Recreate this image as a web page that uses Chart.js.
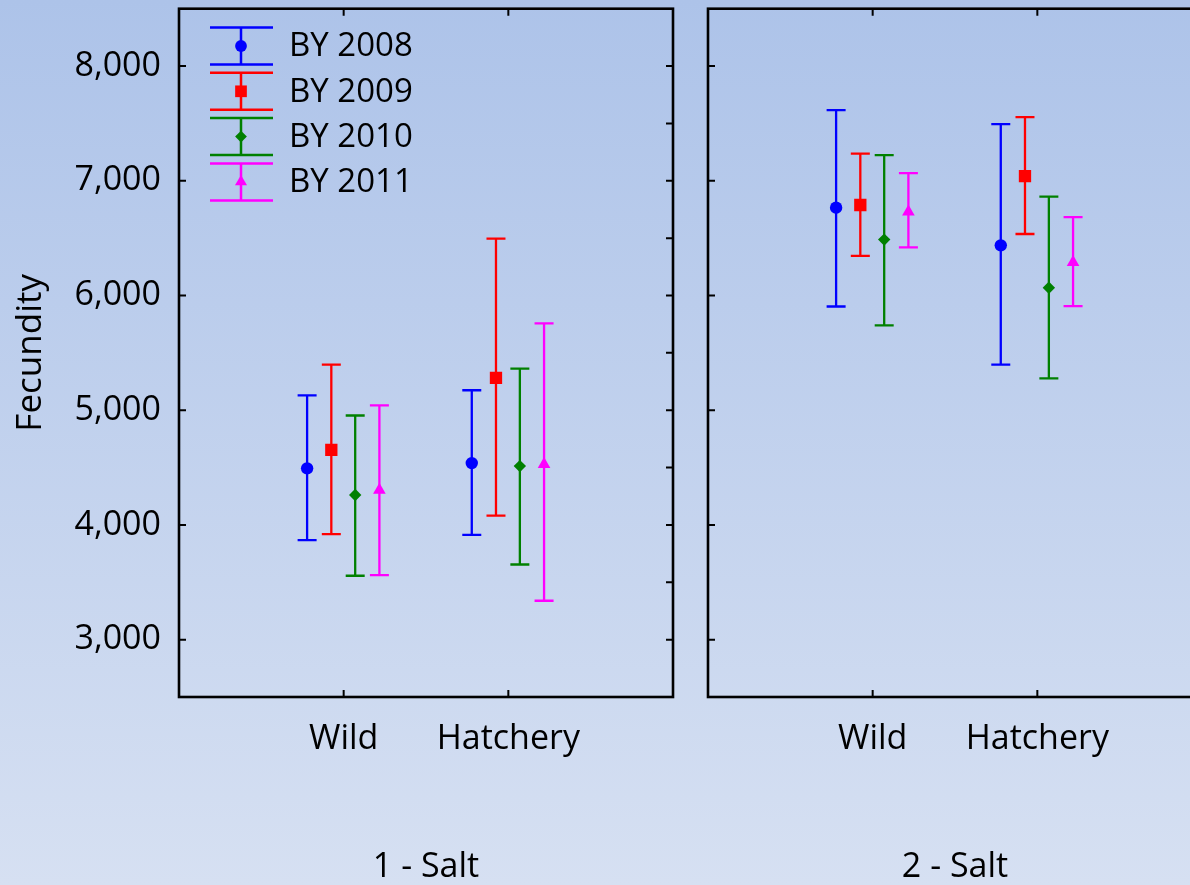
<!DOCTYPE html>
<html>
<head>
<meta charset="utf-8">
<script src="https://cdn.jsdelivr.net/npm/chart.js@4.4.0/dist/chart.umd.min.js"></script>
<style>
html, body { margin: 0; padding: 0; width: 1190px; height: 885px; overflow: hidden; }
body { position: relative; background: linear-gradient(to bottom, #adc3e9 0%, #d6e0f2 100%); }
#left { position: absolute; left: 0; top: 0; width: 690px; height: 885px; }
#right { position: absolute; left: 690px; top: 0; width: 530px; height: 885px; }
</style>
</head>
<body>
<div id="left"><canvas id="chart1"></canvas></div>
<div id="right"><canvas id="chart2"></canvas></div>
<script>
var groups = ['Wild', 'Hatchery'];
var seriesNames = ['BY 2008', 'BY 2009', 'BY 2010', 'BY 2011'];
var yTicks = [3000, 4000, 5000, 6000, 7000, 8000];

// rows: BY 2008..2011, columns: Wild, Hatchery
var salt1Mean = [[4493, 4539], [4655, 5281], [4261, 4513], [4304, 4528]];
var salt1Low  = [[3867, 3913], [3919, 4081], [3557, 3655], [3563, 3339]];
var salt1High = [[5130, 5174], [5397, 6496], [4954, 5363], [5043, 5757]];

var salt2Mean = [[6765, 6437], [6789, 7041], [6487, 6067], [6730, 6289]];
var salt2Low  = [[5904, 5397], [6345, 6536], [5739, 5278], [6420, 5907]];
var salt2High = [[7615, 7493], [7237, 7554], [7223, 6861], [7067, 6684]];

var colors = ['#0000ff', '#ff0000', '#008000', '#ff00ff'];
var markers = ['circle', 'rect', 'rectRot', 'triangle'];
var markerSize = [6.2, 8.7, 6.2, 7.3];
var offsets = [-0.222, -0.075, 0.07, 0.217];
var fontFamily = "'Open Sans', sans-serif";

function drawMarker(ctx, style, x, y, r) {
    ctx.beginPath();
    if (style == 'circle') {
        ctx.arc(x, y, r, 0, Math.PI * 2);
    } else if (style == 'rect') {
        var s = Math.SQRT1_2 * r;
        ctx.rect(x - s, y - s, 2 * s, 2 * s);
    } else if (style == 'rectRot') {
        ctx.moveTo(x - r, y);
        ctx.lineTo(x, y - r);
        ctx.lineTo(x + r, y);
        ctx.lineTo(x, y + r);
        ctx.closePath();
    } else {
        ctx.moveTo(x, y - r);
        ctx.lineTo(x + r * 0.866, y + r / 2);
        ctx.lineTo(x - r * 0.866, y + r / 2);
        ctx.closePath();
    }
    ctx.fill();
}

// whiskers for every point, drawn under the markers
var errorBars = {
    id: 'errorBars',
    beforeDatasetsDraw: function(chart) {
        var ctx = chart.ctx;
        var xs = chart.scales.x, ys = chart.scales.y;
        ctx.save();
        ctx.lineWidth = 2.3;
        chart.data.datasets.forEach(function(ds) {
            ctx.strokeStyle = ds.borderColor;
            ds.data.forEach(function(p) {
                var x = xs.getPixelForValue(p.x);
                var top = ys.getPixelForValue(p.yMax);
                var bot = ys.getPixelForValue(p.yMin);
                ctx.beginPath();
                ctx.moveTo(x, top); ctx.lineTo(x, bot);
                ctx.moveTo(x - 9.5, top); ctx.lineTo(x + 9.5, top);
                ctx.moveTo(x - 9.5, bot); ctx.lineTo(x + 9.5, bot);
                ctx.stroke();
            });
        });
        ctx.restore();
    }
};

// box round the plot with inward tick marks
var frame = {
    id: 'frame',
    afterDraw: function(chart) {
        var ctx = chart.ctx, a = chart.chartArea;
        var xs = chart.scales.x, ys = chart.scales.y;
        ctx.save();
        ctx.strokeStyle = '#000';
        ctx.lineWidth = 2.6;
        ctx.strokeRect(a.left, a.top, a.right - a.left, a.bottom - a.top);
        ctx.lineWidth = 2;
        ctx.beginPath();
        yTicks.forEach(function(v) {
            var y = ys.getPixelForValue(v);
            ctx.moveTo(a.left, y); ctx.lineTo(a.left + 7, y);
        });
        for (var v = 3000; v <= 8000; v += 500) {
            var y = ys.getPixelForValue(v);
            ctx.moveTo(a.right, y); ctx.lineTo(a.right - 7, y);
        }
        [1, 2].forEach(function(v) {
            var x = xs.getPixelForValue(v);
            ctx.moveTo(x, a.top); ctx.lineTo(x, a.top + 7);
            ctx.moveTo(x, a.bottom); ctx.lineTo(x, a.bottom - 7);
        });
        ctx.stroke();
        ctx.restore();
    }
};

var legendBox = {
    id: 'legendBox',
    afterDraw: function(chart) {
        var ctx = chart.ctx;
        ctx.save();
        ctx.font = '33px ' + fontFamily;
        ctx.textBaseline = 'middle';
        for (var i = 0; i < seriesNames.length; i++) {
            var cy = 46 + i * 45.3;
            ctx.strokeStyle = colors[i];
            ctx.fillStyle = colors[i];
            ctx.lineWidth = 2.5;
            ctx.beginPath();
            ctx.moveTo(241, cy - 18.5); ctx.lineTo(241, cy + 18.5);
            ctx.moveTo(210, cy - 18.5); ctx.lineTo(273, cy - 18.5);
            ctx.moveTo(210, cy + 18.5); ctx.lineTo(273, cy + 18.5);
            ctx.stroke();
            drawMarker(ctx, markers[i], 241, cy, markerSize[i] * 0.95);
            ctx.fillStyle = '#000';
            ctx.fillText(seriesNames[i], 289, cy + 1);
        }
        ctx.restore();
    }
};

function makeChart(id, title, means, lows, highs, isLeft) {
    var datasets = seriesNames.map(function(name, si) {
        return {
            label: name,
            data: groups.map(function(g, gi) {
                return { x: gi + 1 + offsets[si], y: means[si][gi], yMin: lows[si][gi], yMax: highs[si][gi] };
            }),
            borderColor: colors[si],
            backgroundColor: colors[si],
            pointStyle: markers[si],
            pointRadius: markerSize[si],
            pointBorderWidth: 0,
            showLine: false
        };
    });
    var plugins = [errorBars, frame];
    if (isLeft) plugins.push(legendBox);
    return new Chart(document.getElementById(id), {
        type: 'scatter',
        data: { datasets: datasets },
        options: {
            responsive: true,
            maintainAspectRatio: false,
            animation: false,
            events: [],
            layout: { padding: { left: 0, right: isLeft ? 17 : 18, top: 6, bottom: 0 } },
            plugins: { legend: { display: false }, tooltip: { enabled: false } },
            scales: {
                x: {
                    type: 'linear',
                    min: 0,
                    max: 3,
                    grid: { display: false },
                    border: { display: false },
                    afterBuildTicks: function(scale) {
                        scale.ticks = [{ value: 1 }, { value: 2 }];
                    },
                    afterFit: function(scale) {
                        scale.height = 188;
                        scale.paddingLeft = 0;
                        scale.paddingRight = 0;
                    },
                    ticks: {
                        color: '#000',
                        font: { family: fontFamily, size: 34 },
                        padding: 14,
                        maxRotation: 0,
                        autoSkip: false,
                        callback: function(v) { return groups[v - 1]; }
                    },
                    title: {
                        display: true,
                        text: title,
                        color: '#000',
                        font: { family: fontFamily, size: 34 },
                        padding: { top: 0, bottom: -3 }
                    }
                },
                y: {
                    min: 2500,
                    max: 8500,
                    grid: { display: false },
                    border: { display: false },
                    afterBuildTicks: function(scale) {
                        scale.ticks = yTicks.map(function(v) { return { value: v }; });
                    },
                    afterFit: function(scale) {
                        scale.width = isLeft ? 179 : 18;
                        scale.paddingTop = 0;
                        scale.paddingBottom = 0;
                    },
                    ticks: {
                        display: isLeft,
                        color: '#000',
                        font: { family: fontFamily, size: 34 },
                        padding: 10,
                        callback: function(v) { return v.toLocaleString('en-US'); }
                    },
                    title: {
                        display: isLeft,
                        text: 'Fecundity',
                        color: '#000',
                        font: { family: fontFamily, size: 35 },
                        padding: { top: 10, bottom: 0 }
                    }
                }
            }
        },
        plugins: plugins
    });
}

makeChart('chart1', '1 - Salt', salt1Mean, salt1Low, salt1High, true);
makeChart('chart2', '2 - Salt', salt2Mean, salt2Low, salt2High, false);
</script>
</body>
</html>
